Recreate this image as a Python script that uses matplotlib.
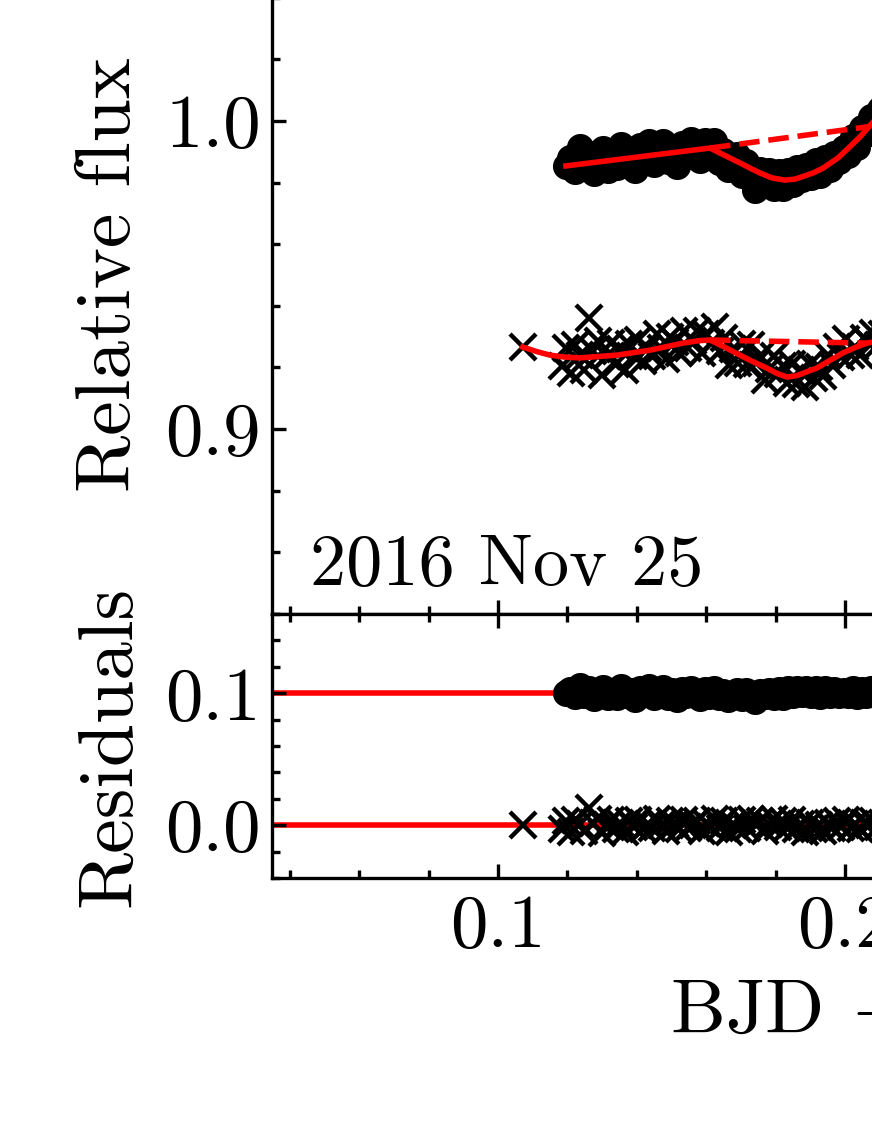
import numpy as np
import matplotlib
matplotlib.use('Agg')
import matplotlib.pyplot as plt
from matplotlib.ticker import MultipleLocator, FormatStrFormatter
from matplotlib.transforms import blended_transform_factory

plt.rcParams['font.family'] = 'serif'
plt.rcParams['font.serif'] = ['cmr10']
plt.rcParams['mathtext.fontset'] = 'cm'
plt.rcParams['axes.unicode_minus'] = False
plt.rcParams['axes.formatter.use_mathtext'] = True

# circles (upper light curve)
t_a = [0.1196, 0.1209, 0.1222, 0.1236, 0.1249, 0.1262, 0.1276, 0.1289, 0.1302, 0.1316,
       0.1329, 0.1342, 0.1356, 0.1369, 0.1382, 0.1396, 0.1409, 0.1422, 0.1436, 0.1449,
       0.1462, 0.1476, 0.1489, 0.1502, 0.1516, 0.1529, 0.1542, 0.1556, 0.1569, 0.1582,
       0.1596, 0.1609, 0.1622, 0.1636, 0.1649, 0.1662, 0.1676, 0.1689, 0.1702, 0.1716,
       0.1729, 0.1742, 0.1756, 0.1769, 0.1782, 0.1796, 0.1809, 0.1822, 0.1836, 0.1849,
       0.1862, 0.1876, 0.1889, 0.1902, 0.1916, 0.1929, 0.1942, 0.1956, 0.1969, 0.1982,
       0.1996, 0.2009, 0.2022, 0.2036, 0.2049, 0.2062, 0.2076, 0.2089, 0.2102, 0.2116]
flux_a = [0.9854, 0.9881, 0.9838, 0.9915, 0.9847, 0.9893, 0.9830, 0.9877, 0.9909, 0.9841,
          0.9888, 0.9850, 0.9921, 0.9868, 0.9900, 0.9842, 0.9919, 0.9886, 0.9933, 0.9859,
          0.9901, 0.9933, 0.9870, 0.9917, 0.9854, 0.9926, 0.9892, 0.9939, 0.9901, 0.9873,
          0.9935, 0.9892, 0.9934, 0.9867, 0.9901, 0.9843, 0.9855, 0.9888, 0.9825, 0.9867,
          0.9814, 0.9777, 0.9840, 0.9804, 0.9838, 0.9783, 0.9835, 0.9783, 0.9838, 0.9795,
          0.9848, 0.9813, 0.9853, 0.9819, 0.9871, 0.9823, 0.9880, 0.9845, 0.9894, 0.9869,
          0.9911, 0.9889, 0.9948, 0.9915, 0.9976, 0.9957, 1.0013, 0.9985, 1.0038, 1.0033]
resid_a = [0.1000, 0.1025, 0.0980, 0.1055, 0.0985, 0.1030, 0.0965, 0.1010, 0.1040, 0.0970,
           0.1015, 0.0975, 0.1045, 0.0990, 0.1020, 0.0960, 0.1035, 0.1000, 0.1045, 0.0970,
           0.1010, 0.1040, 0.0975, 0.1020, 0.0955, 0.1025, 0.0990, 0.1035, 0.0995, 0.0965,
           0.1025, 0.0980, 0.1030, 0.0970, 0.1010, 0.0960, 0.0980, 0.1020, 0.0965, 0.1015,
           0.0970, 0.0940, 0.1010, 0.0980, 0.1020, 0.0970, 0.1025, 0.0975, 0.1030, 0.0985,
           0.1035, 0.0995, 0.1030, 0.0990, 0.1035, 0.0980, 0.1030, 0.0985, 0.1025, 0.0990,
           0.1020, 0.0985, 0.1030, 0.0980, 0.1025, 0.0990, 0.1030, 0.0985, 0.1020, 0.1000]

# crosses (lower light curve)
t_b = [0.1072,
       0.1184, 0.1197, 0.1210, 0.1223, 0.1236, 0.1249, 0.1262, 0.1275, 0.1288, 0.1301,
       0.1314, 0.1327, 0.1340, 0.1353, 0.1366, 0.1379, 0.1392, 0.1405, 0.1418, 0.1431,
       0.1444, 0.1457, 0.1470, 0.1483, 0.1496, 0.1509, 0.1522, 0.1535, 0.1548, 0.1561,
       0.1574, 0.1587, 0.1600, 0.1613, 0.1626, 0.1639, 0.1652, 0.1665, 0.1678, 0.1691,
       0.1704, 0.1717, 0.1730, 0.1743, 0.1756, 0.1769, 0.1782, 0.1795, 0.1808, 0.1821,
       0.1834, 0.1847, 0.1860, 0.1873, 0.1886, 0.1899, 0.1912, 0.1925, 0.1938, 0.1951,
       0.1964, 0.1977, 0.1990, 0.2003, 0.2016, 0.2029, 0.2042, 0.2055, 0.2068, 0.2081,
       0.2094, 0.2107, 0.2120]
flux_b = [0.9266,
          0.9206, 0.9264, 0.9183, 0.9272, 0.9241, 0.9191, 0.9362, 0.9253, 0.9285, 0.9176,
          0.9238, 0.9279, 0.9210, 0.9261, 0.9193, 0.9275, 0.9237, 0.9290, 0.9222, 0.9264,
          0.9237, 0.9310, 0.9263, 0.9226, 0.9300, 0.9283, 0.9246, 0.9319, 0.9262, 0.9285,
          0.9317, 0.9248, 0.9309, 0.9278, 0.9331, 0.9253, 0.9296, 0.9208, 0.9261, 0.9213,
          0.9277, 0.9210, 0.9272, 0.9214, 0.9237, 0.9160, 0.9195, 0.9237, 0.9179, 0.9204,
          0.9149, 0.9212, 0.9146, 0.9191, 0.9136, 0.9211, 0.9166, 0.9203, 0.9171, 0.9240,
          0.9208, 0.9267, 0.9235, 0.9292, 0.9239, 0.9266, 0.9241, 0.9296, 0.9280, 0.9312,
          0.9274, 0.9307, 0.9270]
resid_b = [0.000,
           -0.003, 0.003, -0.005, 0.004, 0.001, -0.004, 0.013, 0.002, 0.005, -0.006,
           0.000, 0.004, -0.003, 0.002, -0.005, 0.003, -0.001, 0.004, -0.003, 0.001,
           -0.002, 0.005, 0.000, -0.004, 0.003, 0.001, -0.003, 0.004, -0.002, 0.000,
           0.003, -0.004, 0.002, -0.001, 0.005, -0.002, 0.003, -0.005, 0.001, -0.003,
           0.004, -0.002, 0.005, 0.000, 0.003, -0.004, 0.001, 0.005, -0.001, 0.003,
           -0.002, 0.004, -0.003, 0.001, -0.005, 0.002, -0.003, 0.000, -0.004, 0.002,
           -0.002, 0.003, -0.001, 0.004, -0.002, 0.001, -0.003, 0.002, 0.000, 0.003,
           -0.001, 0.002, -0.002]

# models (solid = with dip, dashed = baseline)
model_a_t = [0.1196, 0.1611, 0.1650, 0.1697, 0.1730, 0.1755, 0.1790, 0.1827, 0.1855,
             0.1880, 0.1910, 0.1937, 0.1980, 0.2014, 0.2045, 0.2072, 0.2120]
model_a_f = [0.9854, 0.9912, 0.9890, 0.9864, 0.9845, 0.9831, 0.9815, 0.9808, 0.9811,
             0.9820, 0.9832, 0.9847, 0.9880, 0.9916, 0.9950, 0.9985, 1.0045]
base_a_t = [0.1611, 0.2072]
base_a_f = [0.9912, 0.9982]

model_b_t = [0.1072, 0.1110, 0.1150, 0.1190, 0.1236, 0.1343, 0.1438, 0.1533, 0.1580, 0.1611, 0.1655, 0.1697,
             0.1740, 0.1775, 0.1805, 0.1833, 0.1860, 0.1919, 0.1960, 0.1994, 0.2030, 0.2063, 0.2120]
model_b_f = [0.9266, 0.9252, 0.9240, 0.9234, 0.9231, 0.9240, 0.9256, 0.9279, 0.9287, 0.9289, 0.9265, 0.9240,
             0.9216, 0.9198, 0.9180, 0.9169, 0.9173, 0.9198, 0.9225, 0.9247, 0.9265, 0.9279, 0.9290]
base_b_t = [0.1611, 0.2063]
base_b_f = [0.9289, 0.9279]

resid_levels = [0.1, 0.0]
night = '2016 Nov 25'

fs_lab = 56
fs_tick = 54
fig = plt.figure(figsize=(8.72, 11.28), dpi=100)
ax1 = fig.add_axes([0.312, 0.4557, 1.5, 0.601])
ax2 = fig.add_axes([0.312, 0.2216, 1.5, 0.234], sharex=ax1)

ax1.plot(t_a, flux_a, 'o', color='k', ms=18.5, zorder=2)
ax1.plot(t_b, flux_b, 'x', color='k', ms=19, mew=3.2, zorder=2)
ax1.plot(model_a_t, model_a_f, '-', color='red', lw=4.0, zorder=3)
ax1.plot(base_a_t, base_a_f, '--', color='red', lw=4.0, zorder=3)
ax1.plot(model_b_t, model_b_f, '-', color='red', lw=4.0, zorder=3)
ax1.plot(base_b_t, base_b_f, '--', color='red', lw=4.0, zorder=3)
ax1.text(0.0458, 0.8494, night, fontsize=52, va='baseline', ha='left')

for lev in resid_levels:
    ax2.axhline(lev, color='red', lw=4.0, zorder=1)
ax2.plot(t_a, resid_a, 'o', color='k', ms=18.5, zorder=2)
ax2.plot(t_b, resid_b, 'x', color='k', ms=19, mew=3.2, zorder=2)

ax1.set_ylim(0.84, 1.06)
ax2.set_ylim(-0.04, 0.16)

for ax in (ax1, ax2):
    ax.xaxis.set_major_locator(MultipleLocator(0.1))
    ax.xaxis.set_minor_locator(MultipleLocator(0.02))
    ax.yaxis.set_major_locator(MultipleLocator(0.1))
    ax.yaxis.set_minor_locator(MultipleLocator(0.02))
    ax.yaxis.set_major_formatter(FormatStrFormatter('%.1f'))
    ax.xaxis.set_major_formatter(FormatStrFormatter('%.1f'))
    ax.tick_params(which='both', direction='in', top=True, right=True, width=2.4, labelsize=fs_tick)
    ax.tick_params(which='major', length=10)
    ax.tick_params(which='minor', length=5.5)
    ax.tick_params(axis='x', pad=12)
    ax.tick_params(axis='y', pad=8)
    for s in ax.spines.values():
        s.set_linewidth(2.4)
ax1.tick_params(labelbottom=False)

ax1.set_ylabel('Relative flux', fontsize=fs_lab)
ax2.set_ylabel('Residuals', fontsize=fs_lab)
tr1 = blended_transform_factory(fig.transFigure, ax1.transAxes)
tr2 = blended_transform_factory(fig.transFigure, ax2.transAxes)
ax1.yaxis.set_label_coords(145 / 872, 0.5, transform=tr1)
ax2.yaxis.set_label_coords(145 / 872, 0.5, transform=tr2)
ax2.set_xlabel('BJD $-$ 2457718', fontsize=fs_lab, labelpad=12)

# widen axes so the centred x label starts where it does in the original
fig.canvas.draw()
lab_w = ax2.xaxis.label.get_window_extent().width
ax_w = 2 * (670 + lab_w / 2 - 272)
for ax in (ax1, ax2):
    p = ax.get_position()
    ax.set_position([p.x0, p.y0, ax_w / 872, p.height])
ax1.set_xlim(0.0349, 0.0349 + ax_w / 3470)

fig.savefig('out.png', dpi=100, facecolor='white')
